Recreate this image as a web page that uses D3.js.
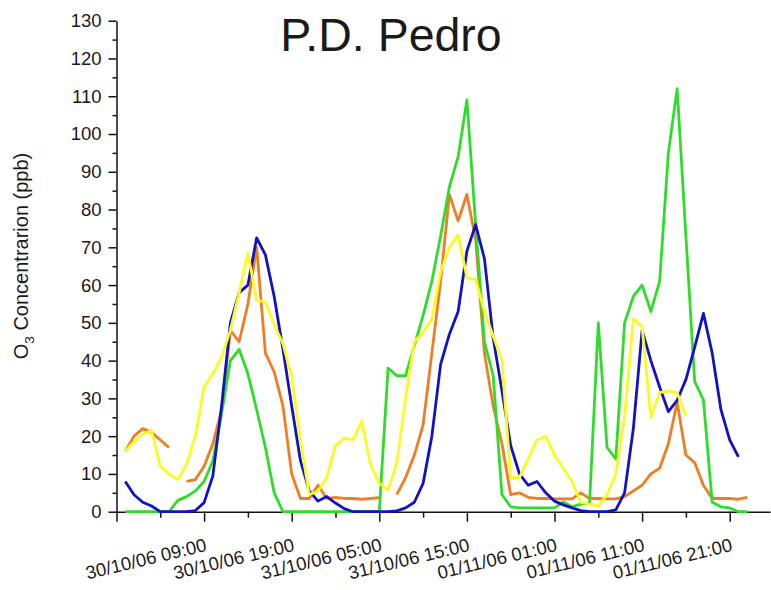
<!DOCTYPE html>
<html><head><meta charset="utf-8">
<script src="https://cdn.jsdelivr.net/npm/d3@7"></script>
<style>
body{margin:0;background:#fff;}
svg{display:block;}
text{font-family:"Liberation Sans",Arial,sans-serif;fill:#1a1a1a;}
</style>
</head><body>
<svg id="chart" width="771" height="590"></svg>
<script>
// ---------------- data ----------------
const chartTitle = "P.D. Pedro";
const startTime = new Date(2006, 9, 30, 0, 0); // first hourly sample: 30/10/06 00:00
const axisStart = new Date(2006, 9, 29, 23, 0);
const axisEnd = new Date(2006, 10, 2, 1, 36);

const orangeSeries = [16,20,22,21,19,17,null,8,8.5,12,
  18,27,48,45,55,70,42,37,28,10,
  3.5,3.5,7,3.5,3.8,3.5,3.5,3.3,3.5,3.7,
  null,4.5,9,15,23,42,61,84,77,84,
  72,42,28,18,4.5,5,3.8,3.5,3.5,3.4,
  3.4,3.4,5,3.5,3.5,3.4,3.4,4,5.5,7,
  10,11.5,18,29,15,13,7,3.5,3.5,3.5,
  3.3,3.8];
const blueSeries = [8,4.5,2.5,1.5,0,0,0,0,0.3,2.4,
  9.5,28,50,58,60,72.5,68,57,43,28,
  13.5,5.5,2.8,4,2.3,0.8,0,0,0,0,
  0,0.2,1,2.5,7.5,20,39,47,53,69,
  76,67,46,32,17.5,10,7,8,5,2.8,
  1.8,1,0.3,0,0,0,0.5,5,22,48,
  40,33,26.5,29.5,35,43.5,52.5,42,27,19,
  14.5,null];
const greenSeries = [0,0,0,0,0,0,3,4,5.5,8,
  13.5,26,40,43,36.5,27,17,5,0,0,
  0,0,0,0,0,0,0,0,0,0,
  38,36,36,44,52,61,73,86,94,109,
  76,45,36,4.5,1.3,1,1,1,1,1,
  2.6,1.3,2,2.2,50,17,14,50,57,60,
  53,61,95,112,73,34.5,29.6,2.5,1.3,1,
  0,0];
const yellowSeries = [16,18.5,20.5,21.5,12,10,8.5,12.5,20,33,
  36.5,41,48,58,68.5,56,55.5,49.5,44.5,35.7,
  19,4.5,5.5,9,17.5,19.5,19,24,12.5,7.5,
  5.7,13,30,45,47.5,51,63.5,70,73.3,62,
  61.5,53,46.5,40,9,9,14,19,20,15,
  11.5,8,2.5,2,1.5,4.5,10,25,51,49,
  25,31.5,32,31.5,25.5,null,null,null,null,null,
  null,null];

const seriesList = [
  {values: orangeSeries, color: "#ee7d23"},
  {values: greenSeries,  color: "#2fdc2a"},
  {values: blueSeries,   color: "#1212c4"},
  {values: yellowSeries, color: "#fbfb22"}
];

const xTickLabels = ["30/10/06 09:00","30/10/06 19:00","31/10/06 05:00","31/10/06 15:00",
                     "01/11/06 01:00","01/11/06 11:00","01/11/06 21:00"];
const yTickValues = [0,10,20,30,40,50,60,70,80,90,100,110,120,130];
const yMinorValues = [5,15,25,35,45,55,65,75,85,95,105,115,125];
const yAxisMain = "O";
const yAxisSub = "3";
const yAxisRest = " Concentrarion (ppb)";

// ---------------- chart ----------------
const svg = d3.select("#chart");
const HOUR = 3600e3;
const parseT = d3.timeParse("%d/%m/%y %H:%M");
const x = d3.scaleTime().domain([axisStart, axisEnd]).range([116.5, 770]);
const y = d3.scaleLinear().domain([0, 130]).range([511.7, 20.7]);

const majorDates = [axisStart].concat(xTickLabels.map(parseT));
const minorDates = majorDates.map(d => new Date(+d + 5 * HOUR)).filter(d => d < axisEnd);
const labelSet = new Set(xTickLabels.map(s => +parseT(s)));
const fmt = d3.timeFormat("%d/%m/%y %H:%M");

// x minor ticks
svg.append("g").attr("transform", "translate(0,511.7)")
  .call(d3.axisBottom(x).tickValues(minorDates).tickSize(6).tickSizeOuter(0).tickFormat(""))
  .call(g => g.select(".domain").remove());
// x major ticks + labels
const gx = svg.append("g").attr("transform", "translate(0,511.7)")
  .call(d3.axisBottom(x).tickValues(majorDates).tickSize(10).tickSizeOuter(0)
        .tickFormat(d => labelSet.has(+d) ? fmt(d) : ""));
gx.select(".domain").attr("stroke", "#111").attr("stroke-width", 1.5);
gx.selectAll("text")
  .attr("font-size", "18.5px")
  .attr("text-anchor", "end")
  .attr("dy", null).attr("y", null)
  .attr("transform", "translate(3,39) rotate(-13.5)");

// y minor ticks
svg.append("g").attr("transform", "translate(116.5,0)")
  .call(d3.axisLeft(y).tickValues(yMinorValues).tickSize(4).tickFormat(""))
  .call(g => g.select(".domain").remove());
// y major
const gy = svg.append("g").attr("transform", "translate(116.5,0)")
  .call(d3.axisLeft(y).tickValues(yTickValues).tickSize(8).tickSizeOuter(0).tickPadding(7));
gy.select(".domain").attr("stroke", "#111").attr("stroke-width", 1.5);
gy.selectAll("text").attr("font-size", "18.5px");
svg.selectAll(".tick line").attr("stroke", "#111").attr("stroke-width", 1.5);

// lines
const line = d3.line()
  .defined(d => d.v !== null)
  .x(d => x(d.t))
  .y(d => y(d.v));
seriesList.forEach(s => {
  const pts = s.values.map((v, i) => ({t: new Date(+startTime + i * HOUR), v}));
  svg.append("path").datum(pts)
    .attr("fill", "none")
    .attr("stroke", s.color)
    .attr("stroke-width", 2.8)
    .attr("stroke-linejoin", "round")
    .attr("d", line);
});

// title
svg.append("text").attr("x", 391).attr("y", 51)
  .attr("text-anchor", "middle").attr("font-size", "46.5px").attr("fill", "#000")
  .text(chartTitle);

// y axis label
const yl = svg.append("text")
  .attr("transform", "translate(28,256) rotate(-90)")
  .attr("text-anchor", "middle").attr("font-size", "20px");
yl.append("tspan").text(yAxisMain);
yl.append("tspan").attr("font-size", "13.5px").attr("dy", 6).text(yAxisSub);
yl.append("tspan").attr("dy", -6).text(yAxisRest);
</script>
</body></html>
